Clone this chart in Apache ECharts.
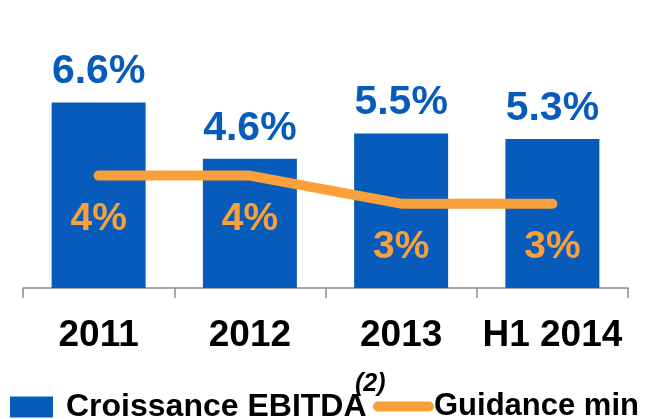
<!DOCTYPE html>
<html>
<head>
<meta charset="utf-8">
<script src="https://cdn.jsdelivr.net/npm/echarts@6/dist/echarts.min.js"></script>
<style>
  html, body { margin: 0; padding: 0; background: #fff; }
  #chart { width: 648px; height: 419px; }
</style>
</head>
<body>
<div id="chart"></div>
<script>
const categories = ['2011', '2012', '2013', 'H1 2014']
const ebitda = [6.6, 4.6, 5.5, 5.3]
const guidance = [4, 4, 3, 3]

const blue = '#075BBA'
const orange = '#F9A03A'
const font = 'Liberation Sans, Arial, sans-serif'

const chart = echarts.init(document.getElementById('chart'))

chart.setOption({
  animation: false,
  textStyle: { fontFamily: font },
  grid: { left: 23, right: 20, top: 7, bottom: 131 },
  legend: [
    {
      data: ['Croissance EBITDA'],
      left: 10,
      top: 391,
      padding: 0,
      icon: 'rect',
      itemWidth: 43,
      itemHeight: 21,
      textStyle: { fontSize: 32, fontWeight: 'bold', color: '#000', padding: [0, 0, 0, 8] },
    },
    {
      data: ['Guidance min'],
      left: 373,
      top: 391,
      padding: 0,
      icon: 'path://M5,0 L56,0 A5,5 0 0 1 56,10 L5,10 A5,5 0 0 1 5,0 Z',
      itemWidth: 61,
      itemHeight: 10,
      textStyle: { fontSize: 31, fontWeight: 'bold', color: '#000', padding: [0, 0, 0, -5] },
    },
  ],
  graphic: [
    {
      type: 'text',
      left: 355,
      top: 372,
      style: { text: '(2)', font: 'italic bold 25px ' + font, fill: '#000' },
    },
  ],
  xAxis: {
    type: 'category',
    data: categories,
    axisLine: { lineStyle: { color: '#8C8C8C', width: 1.5 } },
    axisTick: { show: true, length: 10, lineStyle: { color: '#8C8C8C', width: 1.5 } },
    axisLabel: { interval: 0, fontSize: 37, fontWeight: 'bold', color: '#000', margin: 29 },
  },
  yAxis: {
    type: 'value',
    min: 0,
    max: 10,
    show: false,
    splitLine: { show: false },
  },
  series: [
    {
      name: 'Croissance EBITDA',
      type: 'bar',
      data: ebitda,
      barWidth: 94,
      itemStyle: { color: blue },
      label: {
        show: true,
        position: 'top',
        distance: 10,
        formatter: '{c}%',
        fontSize: 41,
        fontWeight: 'bold',
        color: blue,
      },
    },
    {
      name: 'Guidance min',
      type: 'line',
      data: guidance,
      symbol: 'circle',
      symbolSize: 2,
      itemStyle: { color: orange },
      lineStyle: { color: orange, width: 10, cap: 'round' },
      z: 5,
      label: {
        show: true,
        position: 'inside',
        offset: [0, 44],
        formatter: '{c}%',
        fontSize: 39,
        fontWeight: 'bold',
        color: orange,
      },
    },
  ],
})

window.addEventListener('resize', () => chart.resize())
</script>
</body>
</html>
